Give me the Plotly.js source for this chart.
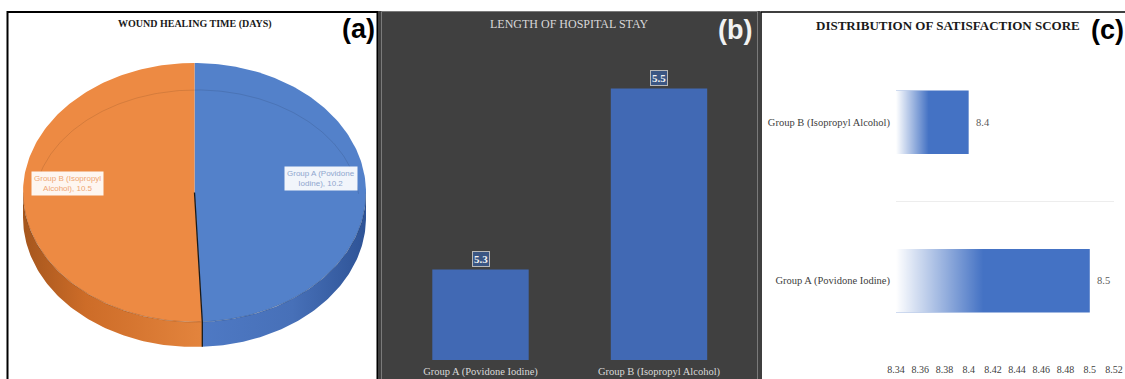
<!DOCTYPE html>
<html>
<head>
<meta charset="utf-8">
<script src="https://cdn.plot.ly/plotly-3.0.1.min.js"></script>
<style>html,body{margin:0;padding:0;background:#fff;}#chart{width:1125px;height:379px;}</style>
</head>
<body>
<div id="chart"></div>
<script>
// ---------- DATA ----------
const pieTitle = 'WOUND HEALING TIME (DAYS)';
const pieLabels = ['Group A (Povidone Iodine)', 'Group B (Isopropyl Alcohol)'];
const pieValues = [10.2, 10.5];

const stayTitle = 'LENGTH OF HOSPITAL STAY';
const stayCategories = ['Group A (Povidone Iodine)', 'Group B (Isopropyl Alcohol)'];
const stayValues = [5.3, 5.5];

const satTitle = 'DISTRIBUTION OF SATISFACTION SCORE';
const satCategories = ['Group A (Povidone Iodine)', 'Group B (Isopropyl Alcohol)'];
const satValues = [8.5, 8.4];
const satTicks = [8.34, 8.36, 8.38, 8.4, 8.42, 8.44, 8.46, 8.48, 8.5, 8.52];

const panelLetters = ['(a)', '(b)', '(c)'];

// ---------- STYLE ----------
const W = 1125, H = 379;
const px = v => v / W;
const py = v => 1 - v / H;
const serif = 'Liberation Serif, Times New Roman, serif';
const sans = 'Liberation Sans, Arial, sans-serif';
const pieTop = ['#5381CA', '#ED8A43'];
const pieSideScales = [
  [[0, '#4E79C4'], [0.55, '#4770B8'], [1, '#2E5396']],
  [[0, '#A5561D'], [0.35, '#CD6C28'], [1, '#E3843D']]
];
const pieLabelColors = ['#8FA6CE', '#EFA774'];
const depth = 25 / 129.5;

// ---------- PIE (a) as elliptical 3-D pie ----------
const traces = [];
const annotations = [];
const total = pieValues.reduce((a, b) => a + b, 0);
let cum = 0;
const slices = pieValues.map((v, i) => {
  const a0 = 90 - cum / total * 360;
  cum += v;
  const a1 = 90 - cum / total * 360;
  return {a0, a1, i};
});
function arc(from, to, yoff) {
  const xs = [], ys = [];
  const n = Math.max(2, Math.ceil(Math.abs(to - from)));
  for (let k = 0; k <= n; k++) {
    const t = (from + (to - from) * k / n) * Math.PI / 180;
    xs.push(Math.cos(t)); ys.push(Math.sin(t) + yoff);
  }
  return {xs, ys};
}
// sides
slices.forEach(s => {
  const lo = Math.max(s.a1, -180), hi = Math.min(s.a0, 0);
  if (hi <= lo) return;
  const up = arc(hi, lo, 0), dn = arc(lo, hi, -depth);
  traces.push({
    type: 'scatter', mode: 'lines', xaxis: 'x', yaxis: 'y',
    x: up.xs.concat(dn.xs), y: up.ys.concat(dn.ys),
    fill: 'toself', fillgradient: {type: 'horizontal', colorscale: pieSideScales[s.i]},
    line: {width: 0}, hoverinfo: 'skip', showlegend: false
  });
});
// top faces
slices.forEach(s => {
  const a = arc(s.a0, s.a1, 0);
  traces.push({
    type: 'scatter', mode: 'lines', xaxis: 'x', yaxis: 'y',
    x: [0].concat(a.xs, [0]), y: [0].concat(a.ys, [0]),
    fill: 'toself', fillcolor: pieTop[s.i],
    line: {width: 0}, hoverinfo: 'text', text: pieLabels[s.i] + ': ' + pieValues[s.i],
    showlegend: false
  });
});
// bevel ring + rim
(function () {
  const xs = [], ys = [];
  for (let d = 6; d <= 174; d++) {
    const t = d * Math.PI / 180;
    xs.push(0.012 + 0.95 * Math.cos(t)); ys.push(-0.104 + 0.896 * Math.sin(t));
  }
  traces.push({type: 'scatter', mode: 'lines', xaxis: 'x', yaxis: 'y', x: xs, y: ys,
    line: {color: 'rgba(0,0,0,0.10)', width: 1}, hoverinfo: 'skip', showlegend: false});
  const r = arc(0, -180, 0);
  traces.push({type: 'scatter', mode: 'lines', xaxis: 'x', yaxis: 'y', x: r.xs, y: r.ys,
    line: {color: 'rgba(0,0,0,0.18)', width: 1}, hoverinfo: 'skip', showlegend: false});
})();
// split line
(function () {
  const s = slices[0];
  const t = s.a1 * Math.PI / 180;
  traces.push({type: 'scatter', mode: 'lines', xaxis: 'x', yaxis: 'y',
    x: [0, Math.cos(t), Math.cos(t)], y: [0, Math.sin(t), Math.sin(t) - depth],
    line: {color: '#1a1a1a', width: 1.3}, hoverinfo: 'skip', showlegend: false});
})();
// pie labels
slices.forEach(s => {
  const mid = (s.a0 + s.a1) / 2 * Math.PI / 180;
  const name = pieLabels[s.i];
  const cut = name.lastIndexOf(' ');
  annotations.push({
    xref: 'x', yref: 'y', x: 0.74 * Math.cos(mid), y: 0.74 * Math.sin(mid) + 0.09,
    xanchor: 'center', yanchor: 'middle',
    text: name.slice(0, cut) + '<br>' + name.slice(cut + 1) + ', ' + pieValues[s.i],
    showarrow: false, bgcolor: 'rgba(255,255,255,0.92)', borderpad: 2,
    font: {family: sans, size: 8, color: pieLabelColors[s.i]}
  });
});

// ---------- BAR (b) ----------
traces.push({
  type: 'bar', xaxis: 'x2', yaxis: 'y2', x: stayCategories, y: stayValues,
  width: 0.54, marker: {color: '#4169B4'}, hoverinfo: 'x+y', showlegend: false
});
stayCategories.forEach((c, i) => annotations.push({
  xref: 'x2', yref: 'y2', x: c, y: stayValues[i], xanchor: 'center', yanchor: 'bottom', yshift: 3,
  text: '<b>' + stayValues[i] + '</b>', showarrow: false,
  bgcolor: '#3B5683', bordercolor: '#B8B8B8', borderwidth: 1, borderpad: 1,
  font: {family: serif, size: 11, color: '#F2F2F2'}
}));

// ---------- BAR (c) ----------
const satIdx = satCategories.map((c, i) => i);
const satMin = satTicks[0];
traces.push({
  type: 'bar', orientation: 'h', xaxis: 'x3', yaxis: 'y3', y: satIdx, x: satValues,
  width: 0.4, marker: {color: '#4472C4'}, hoverinfo: 'x', showlegend: false
});
satValues.forEach((v, i) => {
  traces.push({
    type: 'scatter', mode: 'lines', xaxis: 'x3', yaxis: 'y3',
    x: [satMin, v, v, satMin, satMin], y: [i - 0.2, i - 0.2, i + 0.2, i + 0.2, i - 0.2],
    fill: 'toself',
    fillgradient: {type: 'horizontal', colorscale: [[0, 'rgba(255,255,255,1)'], [0.45, 'rgba(255,255,255,0)'], [1, 'rgba(255,255,255,0)']]},
    line: {width: 0}, hoverinfo: 'skip', showlegend: false
  });
  annotations.push({
    xref: 'x3', yref: 'y3', x: v, y: i, xanchor: 'left', yanchor: 'middle', xshift: 5,
    text: String(v), showarrow: false,
    font: {family: serif, size: 10.5, color: '#595959'}
  });
});

// ---------- TITLES ----------
const paperText = (x, y, text, font) => ({xref: 'paper', yref: 'paper', x: px(x), y: py(y),
  xanchor: 'center', yanchor: 'middle', text, showarrow: false, font});
annotations.push(
  paperText(195, 24, '<b>' + pieTitle + '</b>', {family: serif, size: 10, color: '#1a1a1a'}),
  paperText(569, 24, stayTitle, {family: serif, size: 12, color: '#D9D9D9'}),
  paperText(948, 25, '<b>' + satTitle + '</b>', {family: serif, size: 13, color: '#1a1a1a'}),
  paperText(358, 29, '<b>' + panelLetters[0] + '</b>', {family: sans, size: 27, color: '#000'}),
  paperText(735, 30, '<b>' + panelLetters[1] + '</b>', {family: sans, size: 27, color: '#F2F2F2'}),
  paperText(1107, 30, '<b>' + panelLetters[2] + '</b>', {family: sans, size: 27, color: '#000'})
);

// ---------- PANELS ----------
const shapes = [
  {type: 'rect', xref: 'paper', yref: 'paper', x0: px(7.5), x1: px(377.5), y0: -0.02, y1: py(12),
   fillcolor: '#fff', line: {color: '#000', width: 2}, layer: 'below'},
  {type: 'rect', xref: 'paper', yref: 'paper', x0: px(378), x1: px(760), y0: -0.02, y1: py(11),
   fillcolor: '#404040', line: {width: 0}, layer: 'below'},
  {type: 'rect', xref: 'paper', yref: 'paper', x0: px(381.5), x1: px(757.5), y0: -0.02, y1: py(11.5),
   fillcolor: 'rgba(0,0,0,0)', line: {color: '#7A7A7A', width: 1}, layer: 'below'},
  {type: 'rect', xref: 'paper', yref: 'paper', x0: px(761), x1: 1.02, y0: -0.02, y1: py(12),
   fillcolor: '#fff', line: {color: '#000', width: 1.5}, layer: 'below'}
];

const layout = {
  width: W, height: H, margin: {l: 0, r: 0, t: 0, b: 0},
  paper_bgcolor: '#fff', plot_bgcolor: 'rgba(0,0,0,0)',
  showlegend: false, shapes, annotations,
  xaxis: {domain: [px(23), px(366)], range: [-1, 1], visible: false, fixedrange: true},
  yaxis: {domain: [py(347), py(63)], range: [-1 - depth, 1], visible: false, fixedrange: true},
  xaxis2: {domain: [px(391.25), px(748.25)], anchor: 'y2', type: 'category', range: [-0.5, 1.5],
    showgrid: false, zeroline: false, showline: false, ticks: '', ticklabelstandoff: 3,
    tickfont: {family: serif, size: 10.5, color: '#D9D9D9'}},
  yaxis2: {domain: [py(360), py(43.25)], anchor: 'x2', range: [5.2, 5.55], visible: false},
  xaxis3: {domain: [px(896), px(1114)], anchor: 'y3', range: [8.34, 8.52],
    tickvals: satTicks, ticktext: satTicks.map(String), showgrid: false, zeroline: false,
    showline: false, ticks: '', ticklabelstandoff: 2, tickfont: {family: serif, size: 10, color: '#404040'}},
  yaxis3: {domain: [py(360), py(43)], anchor: 'x3', range: [-0.5, 1.5],
    tickvals: satIdx, ticktext: satCategories, showgrid: false, zeroline: false, showline: false,
    ticks: '', ticklabelstandoff: 5, tickfont: {family: serif, size: 10.5, color: '#404040'},
    minor: {tickvals: [-0.5, 0.5, 1.5], showgrid: true, gridcolor: '#EDEDED', gridwidth: 1, ticks: ''}}
};

Plotly.newPlot('chart', traces, layout, {displayModeBar: false, staticPlot: true});
</script>
</body>
</html>
